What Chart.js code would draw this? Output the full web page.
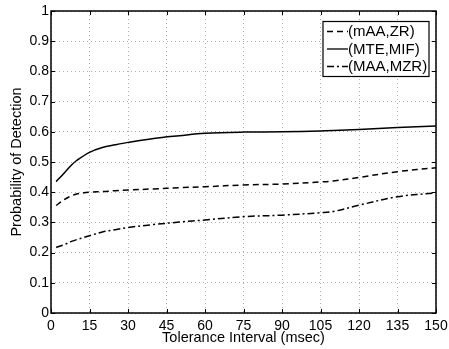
<!DOCTYPE html>
<html>
<head>
<meta charset="utf-8">
<script src="https://cdn.jsdelivr.net/npm/chart.js@4"></script>
<style>
  html, body { margin: 0; padding: 0; background: #fff; }
  #wrap { width: 449px; height: 349px; }
</style>
</head>
<body>
<div id="wrap"><canvas id="chart" width="449" height="349"></canvas></div>
<script>
// tolerance interval (msec) sampled along each curve
var tolerance = [2, 5, 8, 10, 15, 20, 25, 30, 40, 50, 60, 75, 90, 105, 110, 120, 135, 150];

var mAAZR   = [0.356, 0.375, 0.388, 0.394, 0.400, 0.402, 0.405, 0.407, 0.411, 0.415, 0.418, 0.424, 0.427, 0.434, 0.437, 0.449, 0.468, 0.481];
var mteMif  = [0.435, 0.462, 0.490, 0.505, 0.532, 0.548, 0.557, 0.565, 0.578, 0.587, 0.595, 0.599, 0.600, 0.603, 0.604, 0.608, 0.614, 0.619];
var maaMzr  = [0.217, 0.226, 0.237, 0.243, 0.256, 0.268, 0.276, 0.283, 0.293, 0.301, 0.308, 0.319, 0.324, 0.332, 0.336, 0.357, 0.385, 0.398];

var seriesNames = ['(mAA,ZR)', '(MTE,MIF)', '(MAA,MZR)'];
var seriesDash = [[6, 4], [], [7, 3, 2, 3]];

var xTicks = [0, 15, 30, 45, 60, 75, 90, 105, 120, 135, 150];

function points(ys)
{
  return tolerance.map(function(t, i) { return {x: t, y: ys[i]}; });
}

var FONT = 'Liberation Sans, Arial, Helvetica, sans-serif';

// box, inner tick marks and legend the way matlab draws them
var matlabFrame = {
  id: 'matlabFrame',
  afterDraw: function(chart) {
    var ctx = chart.ctx;
    var a = chart.chartArea;
    var xs = chart.scales.x, ys = chart.scales.y;
    ctx.save();
    ctx.strokeStyle = '#000';
    ctx.lineWidth = 1;
    ctx.beginPath();
    xs.ticks.forEach(function(t) {
      var px = Math.round(xs.getPixelForValue(t.value)) + 0.5;
      ctx.moveTo(px, a.bottom); ctx.lineTo(px, a.bottom - 4);
      ctx.moveTo(px, a.top); ctx.lineTo(px, a.top + 4);
    });
    ys.ticks.forEach(function(t) {
      var py = Math.round(ys.getPixelForValue(t.value)) + 0.5;
      ctx.moveTo(a.left, py); ctx.lineTo(a.left + 4, py);
      ctx.moveTo(a.right, py); ctx.lineTo(a.right - 4, py);
    });
    ctx.stroke();
    ctx.lineWidth = 1.5;
    ctx.strokeRect(a.left, a.top, a.right - a.left, a.bottom - a.top);

    // legend
    var lx = 323, ly = 21.5, lw = 106, lh = 55;
    ctx.fillStyle = '#fff';
    ctx.fillRect(lx, ly, lw, lh);
    ctx.lineWidth = 1.2;
    ctx.strokeRect(lx, ly, lw, lh);
    ctx.font = '15px ' + FONT;
    ctx.textBaseline = 'middle';
    ctx.fillStyle = '#000';
    chart.data.datasets.forEach(function(ds, i) {
      var y = ly + 10 + i * 17.5;
      ctx.beginPath();
      ctx.setLineDash(ds.borderDash);
      ctx.lineWidth = 1.3;
      ctx.moveTo(lx + 4, y); ctx.lineTo(lx + 25, y);
      ctx.stroke();
      ctx.setLineDash([]);
      ctx.fillText(ds.label, lx + 25, y + 0.5);
    });
    ctx.restore();
  }
};

var datasets = seriesNames.map(function(name, i) {
  return {
    label: name,
    data: points([mAAZR, mteMif, maaMzr][i]),
    borderColor: '#000',
    borderWidth: 1.5,
    borderDash: seriesDash[i],
    pointRadius: 0,
    tension: 0.35,
    fill: false
  };
});

var ctx = document.getElementById('chart');
new Chart(ctx, {
  type: 'line',
  data: { datasets: datasets },
  options: {
    responsive: false,
    animation: false,
    devicePixelRatio: 1,
    layout: { padding: { top: 11, right: 13, left: 0, bottom: 0 } },
    plugins: { legend: { display: false }, tooltip: { enabled: false } },
    scales: {
      x: {
        type: 'linear',
        min: 0, max: 150,
        afterBuildTicks: function(scale) {
          scale.ticks = xTicks.map(function(v) { return {value: v}; });
        },
        afterFit: function(scale) {
          scale.height = 36;
          scale.paddingLeft = 0;
          scale.paddingRight = 0;
        },
        grid: { color: '#b0b0b0', lineWidth: 1, drawTicks: false },
        border: { display: false, dash: [1, 3] },
        ticks: { color: '#000', padding: 5, maxRotation: 0, autoSkip: false, font: { family: FONT, size: 14 } },
        title: { display: true, text: 'Tolerance Interval (msec)', color: '#000', padding: { top: 0, bottom: 2 }, font: { family: FONT, size: 14.5 } }
      },
      y: {
        min: 0, max: 1,
        afterFit: function(scale) {
          scale.width = 51;
          scale.paddingTop = 0;
          scale.paddingBottom = 0;
        },
        grid: { color: '#b0b0b0', lineWidth: 1, drawTicks: false },
        border: { display: false, dash: [1, 3] },
        ticks: {
          stepSize: 0.1, color: '#000', padding: 2,
          font: { family: FONT, size: 14 },
          callback: function(v) { return String(Number(v.toFixed(1))); }
        },
        title: { display: true, text: 'Probability of Detection', color: '#000', padding: { top: 8, bottom: 0 }, font: { family: FONT, size: 14.5 } }
      }
    }
  },
  plugins: [matlabFrame]
});
</script>
</body>
</html>
